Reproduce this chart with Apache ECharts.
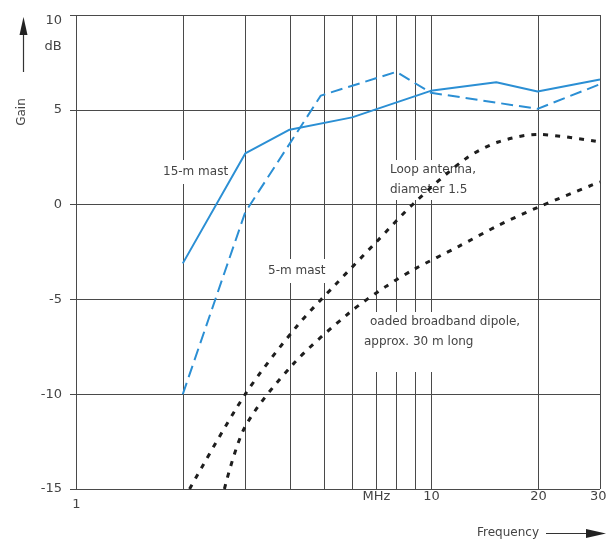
<!DOCTYPE html>
<html>
<head>
<meta charset="utf-8">
<script src="https://cdn.jsdelivr.net/npm/echarts@6/dist/echarts.min.js"></script>
<style>
  html, body { margin: 0; padding: 0; background: #fff; }
  #chart { width: 606px; height: 542px; }
</style>
</head>
<body>
<div id="chart"></div>
<script>
// axis ticks
const freqTicks = [1, 2, 3, 4, 5, 6, 7, 8, 9, 10, 20, 30];
const freqTickLabels = ['1', '', '', '', '', '', 'MHz', '', '', '10', '20', '30'];
const gainMin = -15;
const gainMax = 10;
const gainStep = 5;

// 15-m mast (solid blue)
const mast15Freq = [2, 3, 4, 6, 10, 15.3, 20, 30];
const mast15Gain = [-3.1, 2.7, 3.95, 4.6, 6.0, 6.45, 5.97, 6.6];

// 5-m mast (dashed blue)
const mast5Freq = [2, 3, 4.9, 8, 10, 20, 30];
const mast5Gain = [-10, -0.4, 5.75, 7.0, 5.9, 5.05, 6.35];

// loop antenna (dotted)
const loopFreq = [2.09, 3.0, 4.2, 5.4, 7, 9, 12.5, 15.5, 20, 30];
const loopGain = [-15, -10, -6.4, -4.2, -2.0, 0.1, 2.4, 3.3, 3.7, 3.3];

// loaded broadband dipole (dotted)
const dipoleFreq = [2.62, 3.0, 4.1, 5.9, 7.5, 9, 12, 15.5, 20, 30];
const dipoleGain = [-15, -11.7, -8.4, -5.7, -4.3, -3.4, -2.2, -1.1, -0.15, 1.2];

const zip = (xs, ys) => xs.map((x, i) => [x, ys[i]]);

const blue = '#2b8fd4';
const dark = '#1e1e1e';
const gridColor = '#4a4a4a';
const textColor = '#444';
const font = '12px "DejaVu Sans"';

function renderGridLine(params, api) {
  const f = api.value(0);
  const top = api.coord([f, gainMax]);
  const bottom = api.coord([f, gainMin]);
  const x = Math.round(top[0]) + 0.5;
  const last = params.dataIndex === freqTicks.length - 1;
  return {
    type: 'group',
    children: [
      {
        type: 'line',
        shape: { x1: x, y1: top[1], x2: x, y2: bottom[1] },
        style: { stroke: gridColor, lineWidth: 1 }
      },
      {
        type: 'text',
        style: {
          text: freqTickLabels[params.dataIndex],
          x: last ? x + 6 : x,
          y: bottom[1] + (params.dataIndex === 0 ? 16 : 8),
          align: last ? 'right' : 'center',
          verticalAlign: 'middle',
          font: '13px "DejaVu Sans"',
          fill: textColor
        }
      }
    ]
  };
}

function note(text, x, y, pad) {
  return {
    type: 'text',
    z: 2,
    style: {
      text: text, x: x, y: y, font: font, fill: textColor,
      backgroundColor: '#fff', padding: pad, lineHeight: 20
    }
  };
}

const chart = echarts.init(document.getElementById('chart'));
chart.setOption({
  animation: false,
  grid: { left: 76, right: 6, top: 15, bottom: 53, containLabel: false, outerBoundsMode: 'none' },
  xAxis: {
    type: 'log', logBase: 10, min: 1, max: 30,
    axisLine: { show: false }, axisTick: { show: false },
    axisLabel: { show: false }, splitLine: { show: false }
  },
  yAxis: {
    type: 'value', min: gainMin, max: gainMax, interval: gainStep,
    axisLine: { show: false },
    axisTick: { show: true, length: 6, lineStyle: { color: gridColor } },
    axisLabel: {
      margin: 14, color: textColor, fontSize: 13, fontFamily: 'DejaVu Sans',
      formatter: v => (v === gainMax ? '{top|' + v + '}' : String(v)),
      rich: { top: { padding: [12, 0, 0, 0], fontSize: 13, fontFamily: 'DejaVu Sans', color: textColor } }
    },
    splitLine: { lineStyle: { color: gridColor, width: 1 } }
  },
  series: [
    {
      type: 'custom', z: 1, silent: true,
      renderItem: renderGridLine,
      encode: { x: 0, y: 1 },
      data: freqTicks.map(f => [f, gainMin])
    },
    {
      name: '15-m mast', type: 'line', z: 3, symbol: 'none',
      data: zip(mast15Freq, mast15Gain),
      lineStyle: { color: blue, width: 2 }
    },
    {
      name: '5-m mast', type: 'line', z: 3, symbol: 'none',
      data: zip(mast5Freq, mast5Gain),
      lineStyle: { color: blue, width: 2, type: [12, 6] }
    },
    {
      name: 'Loop antenna', type: 'line', z: 3, symbol: 'none', smooth: 0.3,
      data: zip(loopFreq, loopGain),
      lineStyle: { color: dark, width: 3, type: [5, 7], cap: 'butt' }
    },
    {
      name: 'Loaded broadband dipole', type: 'line', z: 3, symbol: 'none', smooth: 0.3,
      data: zip(dipoleFreq, dipoleGain),
      lineStyle: { color: dark, width: 3, type: [5, 7], cap: 'butt' }
    }
  ],
  graphic: [
    note('15-m mast', 162, 160, [2, 1, 2, 1]),
    note('5-m mast', 267, 259, [2, 1, 2, 1]),
    note('Loop antenna,\ndiameter 1.5', 388, 160, [0, 2, 0, 2]),
    { type: 'rect', z: 2, shape: { x: 360, y: 312, width: 176, height: 60 }, style: { fill: '#fff' } },
    { type: 'text', z: 2, style: { text: 'oaded broadband dipole,', x: 370, y: 316, font: font, fill: textColor } },
    { type: 'text', z: 2, style: { text: 'approx. 30 m long', x: 364, y: 336, font: font, fill: textColor } },
    { type: 'text', style: { text: 'dB', x: 53, y: 47, align: 'center', verticalAlign: 'middle', font: '13px "DejaVu Sans"', fill: textColor } },
    { type: 'text', rotation: Math.PI / 2, x: 22, y: 112, style: { text: 'Gain', align: 'center', verticalAlign: 'middle', font: font, fill: textColor } },
    { type: 'line', shape: { x1: 23.5, y1: 72, x2: 23.5, y2: 32 }, style: { stroke: '#333', lineWidth: 1.2 } },
    { type: 'polygon', shape: { points: [[23.5, 17], [19.5, 35], [27.5, 35]] }, style: { fill: '#222' } },
    { type: 'text', style: { text: 'Frequency', x: 477, y: 533, verticalAlign: 'middle', font: font, fill: textColor } },
    { type: 'line', shape: { x1: 546, y1: 533.5, x2: 590, y2: 533.5 }, style: { stroke: '#333', lineWidth: 1.2 } },
    { type: 'polygon', shape: { points: [[606, 533.5], [586, 529], [586, 538]] }, style: { fill: '#222' } }
  ]
});
</script>
</body>
</html>
